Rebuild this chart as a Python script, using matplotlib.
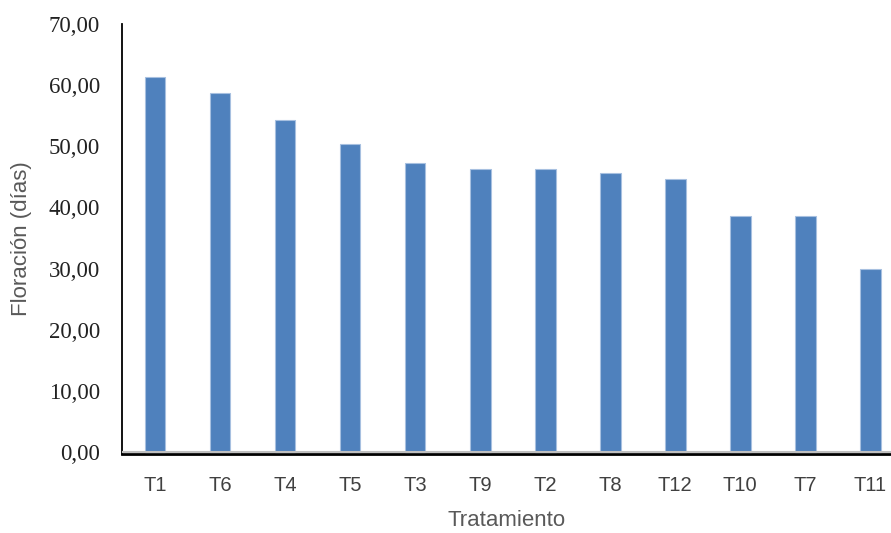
import numpy as np
import matplotlib.pyplot as plt

# tratamientos ordenados de mayor a menor
tratamientos = ['T1', 'T6', 'T4', 'T5', 'T3', 'T9', 'T2', 'T8', 'T12', 'T10', 'T7', 'T11']
floracion = [61.33, 58.67, 54.33, 50.33, 47.33, 46.33, 46.33, 45.67, 44.67, 38.67, 38.67, 30.00]
y_ticks = [0, 10, 20, 30, 40, 50, 60, 70]
y_labels = ['0,00', '10,00', '20,00', '30,00', '40,00', '50,00', '60,00', '70,00']

fig = plt.figure(figsize=(8.91, 5.33), dpi=100)
ax = fig.add_axes([122 / 891, 79 / 533, 1 - 122 / 891, (454 - 24) / 533])

x = np.arange(len(tratamientos))
ax.bar(x, floracion, width=0.32, color='#4F81BD', edgecolor='#A7C0E0', linewidth=0.8, zorder=3)

ax.set_xlim(-0.508, 11.32)
ax.set_ylim(-0.33, 70)

ax.set_yticks(y_ticks)
ax.set_yticklabels(y_labels, family='Liberation Serif', fontsize=16.5, color='#222222')
ax.set_xticks(x)
ax.set_xticklabels(tratamientos, family='Liberation Sans', fontsize=14.5, color='#404040')
ax.tick_params(axis='y', length=0, pad=16)
ax.tick_params(axis='x', length=0, pad=16)

ax.set_xlabel('Tratamiento', family='Liberation Sans', fontsize=16, color='#595959', labelpad=11)
ax.set_ylabel('Floración (días)', family='Liberation Sans', fontsize=16, color='#595959', labelpad=12)

ax.axhline(0, color='#BFBFBF', linewidth=1.5, zorder=4)
ax.spines['top'].set_visible(False)
ax.spines['right'].set_visible(False)
ax.spines['left'].set_color('black')
ax.spines['left'].set_linewidth(1.3)
ax.spines['bottom'].set_color('black')
ax.spines['bottom'].set_linewidth(2)

fig.savefig('out.png', dpi=100)
